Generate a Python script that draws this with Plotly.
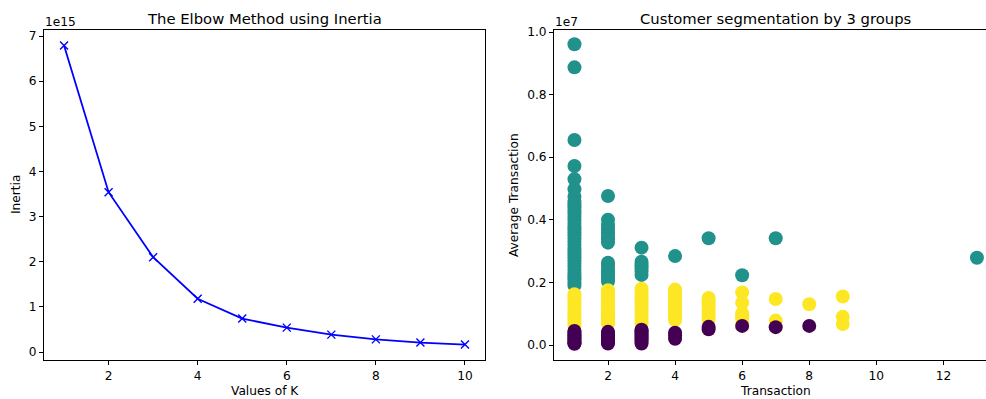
import plotly.graph_objects as go

# ---------------- data ----------------
k_values = [1, 2, 3, 4, 5, 6, 7, 8, 9, 10]
inertia = [6.79e15, 3.54e15, 2.10e15, 1.18e15, 0.74e15, 0.54e15, 0.385e15, 0.28e15, 0.21e15, 0.165e15]
inertia_ticks = [0, 1, 2, 3, 4, 5, 6, 7]
k_ticks = [2, 4, 6, 8, 10]

# cluster 1 (teal)
teal_x = [1, 1, 1, 1, 1, 1, 1, 1, 1, 1, 1, 1, 1, 1, 1, 1, 1, 1, 1, 1, 1, 1, 1, 1, 1, 1, 1, 1, 1, 1, 1, 1, 1, 1, 1,
          2, 2, 2, 2, 2, 2, 2, 2, 2, 2, 2, 2, 2, 2, 2,
          3, 3, 3, 3, 3, 3,
          4, 5, 6, 7, 13]
teal_y = [9.61e6, 8.87e6, 6.55e6, 5.72e6, 5.30e6, 4.98e6, 4.74e6, 4.60e6, 4.50e6, 4.40e6, 4.30e6, 4.20e6,
          4.10e6, 4.00e6, 3.90e6, 3.80e6, 3.70e6, 3.60e6, 3.50e6, 3.40e6, 3.30e6, 3.20e6, 3.10e6, 3.00e6,
          2.90e6, 2.80e6, 2.70e6, 2.60e6, 2.50e6, 2.40e6, 2.30e6, 2.20e6, 2.10e6, 2.00e6, 1.90e6,
          4.76e6, 4.00e6, 3.83e6, 3.70e6, 3.57e6, 3.45e6, 3.38e6, 3.27e6, 2.63e6, 2.53e6, 2.43e6, 2.33e6,
          2.23e6, 2.13e6, 2.03e6,
          3.11e6, 2.66e6, 2.55e6, 2.45e6, 2.35e6, 2.24e6,
          2.84e6, 3.41e6, 2.23e6, 3.41e6, 2.79e6]

# cluster 2 (yellow)
yellow_x = [1, 1, 1, 1, 1, 1, 1, 1, 1, 1, 1,
            2, 2, 2, 2, 2, 2, 2, 2, 2, 2, 2, 2,
            3, 3, 3, 3, 3, 3, 3, 3, 3, 3, 3, 3,
            4, 4, 4, 4, 4, 4, 4, 4, 4, 4, 4,
            5, 5, 5, 5, 5, 5, 5, 5,
            6, 6, 6, 6, 6, 6,
            7, 7, 8, 9, 9, 9]
yellow_y = [1.62e6, 1.52e6, 1.42e6, 1.32e6, 1.22e6, 1.12e6, 1.02e6, 0.92e6, 0.82e6, 0.72e6, 0.62e6,
            1.75e6, 1.65e6, 1.55e6, 1.45e6, 1.35e6, 1.25e6, 1.15e6, 1.05e6, 0.95e6, 0.85e6, 0.75e6, 0.68e6,
            1.80e6, 1.70e6, 1.60e6, 1.50e6, 1.40e6, 1.30e6, 1.20e6, 1.10e6, 1.00e6, 0.90e6, 0.80e6, 0.70e6,
            1.77e6, 1.70e6, 1.60e6, 1.50e6, 1.40e6, 1.30e6, 1.20e6, 1.10e6, 1.00e6, 0.90e6, 0.80e6,
            1.50e6, 1.40e6, 1.30e6, 1.22e6, 1.10e6, 1.00e6, 0.90e6, 0.81e6,
            1.68e6, 1.35e6, 1.01e6, 0.93e6, 0.85e6, 0.67e6,
            1.47e6, 0.78e6, 1.30e6, 1.55e6, 0.90e6, 0.67e6]

# cluster 0 (purple)
purple_x = [1, 1, 1, 1, 1, 1, 1, 1, 1, 1,
            2, 2, 2, 2, 2, 2, 2, 2, 2,
            3, 3, 3, 3, 3, 3, 3, 3, 3,
            4, 4, 4, 5, 5, 6, 7, 8]
purple_y = [0.45e6, 0.40e6, 0.35e6, 0.30e6, 0.25e6, 0.20e6, 0.15e6, 0.10e6, 0.06e6, 0.04e6,
            0.42e6, 0.37e6, 0.32e6, 0.27e6, 0.22e6, 0.17e6, 0.12e6, 0.08e6, 0.05e6,
            0.49e6, 0.44e6, 0.39e6, 0.34e6, 0.29e6, 0.24e6, 0.19e6, 0.12e6, 0.05e6,
            0.39e6, 0.30e6, 0.20e6, 0.58e6, 0.50e6, 0.61e6, 0.57e6, 0.61e6]

avg_ticks = [0.0, 0.2, 0.4, 0.6, 0.8, 1.0]
trans_ticks = [2, 4, 6, 8, 10, 12]

# ---------------- figure ----------------
W, H = 986, 399
ML, MR, MT, MB = 0, 0, 30, 39
PH = H - MT - MB

def px(x):
    return x / W

def py(y):
    return (H - MB - y) / PH

FONT = "DejaVu Sans"
TXT = "#000000"
TS = 12.2   # tick / label font size
TT = 14.8   # title font size

fig = go.Figure()

fig.add_trace(go.Scatter(
    x=k_values, y=inertia, mode="lines+markers",
    line=dict(color="#0000ff", width=1.8),
    marker=dict(symbol="x-thin", size=8, color="#0000ff", line=dict(color="#0000ff", width=1.4)),
    xaxis="x", yaxis="y", showlegend=False))

for xs, ys, col in [(teal_x, teal_y, "#21918c"), (yellow_x, yellow_y, "#fde725"), (purple_x, purple_y, "#440154")]:
    fig.add_trace(go.Scatter(
        x=xs, y=ys, mode="markers",
        marker=dict(size=14, color=col, line=dict(width=0)),
        xaxis="x2", yaxis="y2", showlegend=False))

axis_common = dict(showgrid=False, zeroline=False, showline=True, linecolor="#000000", linewidth=1,
                   ticks="outside", ticklen=4, tickwidth=1, tickcolor="#000000",
                   tickfont=dict(family=FONT, size=TS, color=TXT), automargin=False)

fig.update_layout(
    width=W, height=H,
    margin=dict(l=ML, r=MR, t=MT, b=MB),
    paper_bgcolor="white", plot_bgcolor="white",
    font=dict(family=FONT, color=TXT),
    xaxis=dict(domain=[px(44), px(485)], range=[0.55, 10.45], tickvals=k_ticks,
               ticktext=[str(t) for t in k_ticks], mirror=True, anchor="y", **axis_common),
    yaxis=dict(domain=[0, 1], range=[-0.177e15, 7.133e15], tickvals=[t * 1e15 for t in inertia_ticks],
               ticktext=[str(t) for t in inertia_ticks], mirror=True, anchor="x", **axis_common),
    xaxis2=dict(domain=[px(554), 1.0], range=[0.39, 13.27], tickvals=trans_ticks,
                ticktext=[str(t) for t in trans_ticks], mirror=True, anchor="y2", **axis_common),
    yaxis2=dict(domain=[0, 1], range=[-0.0479e7, 1.0064e7], tickvals=[t * 1e7 for t in avg_ticks],
                ticktext=["%.1f" % t for t in avg_ticks], mirror=False, anchor="x2", **axis_common),
)

ann = []
ann.append(dict(text="The Elbow Method using Inertia", x=px(264.5), y=py(19), xref="paper", yref="paper",
                xanchor="center", yanchor="middle", showarrow=False, font=dict(family=FONT, size=TT, color=TXT)))
ann.append(dict(text="Customer segmentation by 3 groups", x=px(775), y=py(19), xref="paper", yref="paper",
                xanchor="center", yanchor="middle", showarrow=False, font=dict(family=FONT, size=TT, color=TXT)))
ann.append(dict(text="Values of K", x=px(264.5), y=py(391), xref="paper", yref="paper",
                xanchor="center", yanchor="middle", showarrow=False, font=dict(family=FONT, size=TS, color=TXT)))
ann.append(dict(text="Transaction", x=px(775), y=py(391), xref="paper", yref="paper",
                xanchor="center", yanchor="middle", showarrow=False, font=dict(family=FONT, size=TS, color=TXT)))
ann.append(dict(text="Inertia", x=px(16), y=py(195), xref="paper", yref="paper", textangle=-90,
                xanchor="center", yanchor="middle", showarrow=False, font=dict(family=FONT, size=TS, color=TXT)))
ann.append(dict(text="Average Transaction", x=px(514), y=py(195), xref="paper", yref="paper", textangle=-90,
                xanchor="center", yanchor="middle", showarrow=False, font=dict(family=FONT, size=TS, color=TXT)))
ann.append(dict(text="1e15", x=px(43), y=py(22), xref="paper", yref="paper",
                xanchor="left", yanchor="middle", showarrow=False, font=dict(family=FONT, size=TS, color=TXT)))
ann.append(dict(text="1e7", x=px(553), y=py(22), xref="paper", yref="paper",
                xanchor="left", yanchor="middle", showarrow=False, font=dict(family=FONT, size=TS, color=TXT)))
fig.update_layout(annotations=ann)

fig.write_html("out.html")
